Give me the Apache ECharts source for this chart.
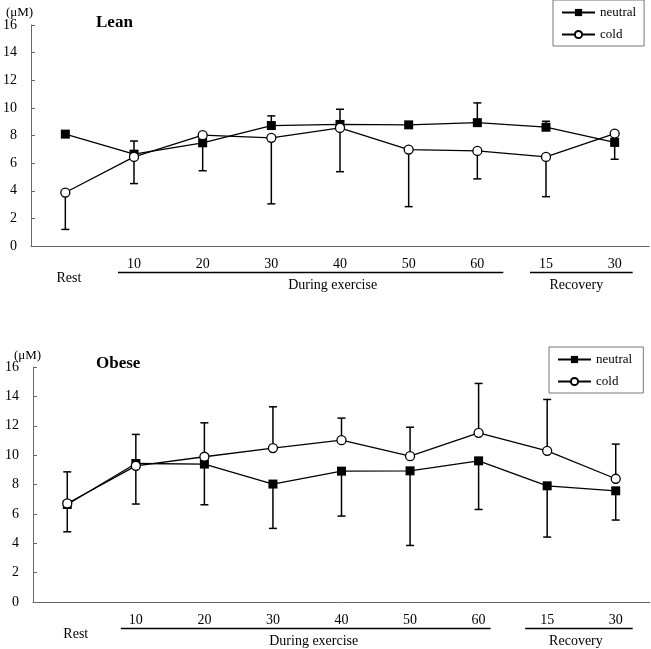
<!DOCTYPE html>
<html>
<head>
<meta charset="utf-8">
<script src="https://cdn.jsdelivr.net/npm/echarts@6/dist/echarts.min.js"></script>
<style>html,body{margin:0;padding:0;background:#fff}#c{width:651px;height:649px}</style>
</head>
<body>
<div id="c"></div>
<script>
// ---- data ----
var categories = ['Rest', '10', '20', '30', '40', '50', '60', '15', '30'];
var yTicks = [0, 2, 4, 6, 8, 10, 12, 14, 16];

var leanNeutral    = [8.1, 6.65, 7.47, 8.72, 8.8, 8.77, 8.93, 8.6, 7.5];
var leanNeutralErr = [null, 7.6, 5.45, 9.42, 9.9, null, 10.36, 9.03, 6.28];
var leanCold       = [3.87, 6.45, 8.02, 7.83, 8.55, 6.98, 6.88, 6.45, 8.14];
var leanColdErr    = [1.2, 4.52, null, 3.05, 5.38, 2.85, 4.86, 3.57, null];

var obeseNeutral    = [6.64, 9.43, 9.39, 8.03, 8.91, 8.93, 9.61, 7.91, 7.57];
var obeseNeutralErr = [4.78, 6.67, 6.62, 5.01, 5.85, 3.85, 6.3, 4.42, 5.58];
var obeseCold       = [6.71, 9.27, 9.89, 10.48, 11.02, 9.93, 11.52, 10.29, 8.39];
var obeseColdErr    = [8.86, 11.41, 12.2, 13.29, 12.52, 11.9, 14.88, 13.79, 10.75];

var groupLabels = ['During exercise', 'Recovery'];
var panelTitles = ['Lean', 'Obese'];
var unitLabel = '(μM)';

// ---- chart ----
var FONT = '"Liberation Serif", "Times New Roman", serif';
var chart = echarts.init(document.getElementById('c'), null, {renderer: 'canvas'});

function errData(vals, ends) {
  var out = [];
  for (var i = 0; i < vals.length; i++) {
    if (ends[i] !== null) out.push([i, vals[i], ends[i]]);
  }
  return out;
}
function errRender(params, api) {
  var i = api.value(0);
  var p1 = api.coord([i, api.value(1)]);
  var p2 = api.coord([i, api.value(2)]);
  var cap = 4;
  return {
    type: 'group',
    children: [
      {type: 'line', shape: {x1: p1[0], y1: p1[1], x2: p2[0], y2: p2[1]}, style: {stroke: '#000', lineWidth: 1.5}},
      {type: 'line', shape: {x1: p2[0] - cap, y1: p2[1], x2: p2[0] + cap, y2: p2[1]}, style: {stroke: '#000', lineWidth: 1.5}}
    ]
  };
}

function xAxisFor(gi, restPadTop, restPadLeft) {
  return {
    type: 'category', gridIndex: gi, data: categories, boundaryGap: true,
    axisLine: {lineStyle: {color: '#666', width: 1}},
    axisTick: {inside: true, length: 4, lineStyle: {color: '#666'}},
    axisLabel: {
      color: '#000', fontFamily: FONT, fontSize: 14, margin: 11,
      formatter: function (v) { return v === 'Rest' ? '{r|Rest}' : v; },
      rich: {r: {fontFamily: FONT, fontSize: 14, color: '#000', padding: [restPadTop, 0, 0, restPadLeft]}}
    }
  };
}
function yAxisFor(gi) {
  return {
    type: 'value', gridIndex: gi, min: yTicks[0], max: yTicks[yTicks.length - 1], interval: 2,
    splitLine: {show: false},
    axisLine: {show: true, lineStyle: {color: '#666', width: 1}},
    axisTick: {show: true, inside: true, length: 4, lineStyle: {color: '#666'}},
    axisLabel: {color: '#000', fontFamily: FONT, fontSize: 14, margin: 14}
  };
}
function lineSeries(name, gi, data, filled) {
  return {
    name: name, type: 'line', xAxisIndex: gi, yAxisIndex: gi, data: data,
    symbol: filled ? 'rect' : 'circle', symbolSize: 9,
    lineStyle: {color: '#000', width: 1.3},
    itemStyle: {color: filled ? '#000' : '#fff', borderColor: '#000', borderWidth: filled ? 0 : 1.3},
    z: 3
  };
}
function errSeries(gi, vals, ends) {
  return {type: 'custom', xAxisIndex: gi, yAxisIndex: gi, renderItem: errRender,
    data: errData(vals, ends), z: 2, silent: true};
}

var option = {
  animation: false,
  title: [
    {text: panelTitles[0], left: 91, top: 9, textStyle: {fontFamily: FONT, fontSize: 17, fontWeight: 'bold', color: '#000'}},
    {text: panelTitles[1], left: 91, top: 350, textStyle: {fontFamily: FONT, fontSize: 17, fontWeight: 'bold', color: '#000'}},
    {text: unitLabel, left: 1, top: 1, textStyle: {fontFamily: FONT, fontSize: 13, fontWeight: 'normal', color: '#000'}},
    {text: unitLabel, left: 9, top: 344, textStyle: {fontFamily: FONT, fontSize: 13, fontWeight: 'normal', color: '#000'}}
  ],
  legend: [
    {data: ['neutral', 'cold'], orient: 'vertical', left: 553, top: 0, itemWidth: 33, itemHeight: 9, itemGap: 9,
     padding: [6, 8, 5, 8], borderColor: '#777', borderWidth: 1,
     textStyle: {fontFamily: FONT, fontSize: 13, color: '#000'}},
    {data: ['neutral ', 'cold '], orient: 'vertical', left: 549, top: 347, itemWidth: 33, itemHeight: 9, itemGap: 9,
     padding: [6, 8, 5, 8], borderColor: '#777', borderWidth: 1,
     textStyle: {fontFamily: FONT, fontSize: 13, color: '#000'}}
  ],
  grid: [
    {left: 29, right: 2, top: 25, bottom: 403, containLabel: false},
    {left: 33, right: 1, top: 367, bottom: 47, containLabel: false}
  ],
  xAxis: [xAxisFor(0, 14, 7), xAxisFor(1, 14, 17)],
  yAxis: [yAxisFor(0), yAxisFor(1)],
  series: [
    errSeries(0, leanNeutral, leanNeutralErr),
    errSeries(0, leanCold, leanColdErr),
    lineSeries('neutral', 0, leanNeutral, true),
    lineSeries('cold', 0, leanCold, false),
    errSeries(1, obeseNeutral, obeseNeutralErr),
    errSeries(1, obeseCold, obeseColdErr),
    lineSeries('neutral ', 1, obeseNeutral, true),
    lineSeries('cold ', 1, obeseCold, false)
  ]
};
chart.setOption(option);

// group brackets beneath the category axis
function cx(gi, idx) { return chart.convertToPixel({xAxisIndex: gi}, idx); }
function cy(gi, v) { return chart.convertToPixel({yAxisIndex: gi}, v); }
var bracketCfg = [
  [{a: 1, b: 6, offA: -16, offB: 26, textOff: 22}, {a: 7, b: 8, offA: -16, offB: 18, textOff: -5}],
  [{a: 1, b: 6, offA: -15, offB: 12, textOff: 8}, {a: 7, b: 8, offA: -22, offB: 17, textOff: -3}]
];
var graphics = [];
[0, 1].forEach(function (gi) {
  var base = cy(gi, 0);
  var lineY = base + 26.5;
  var textY = base + 32;
  bracketCfg[gi].forEach(function (g, k) {
    var x1 = cx(gi, g.a) + g.offA, x2 = cx(gi, g.b) + g.offB;
    graphics.push({type: 'line', shape: {x1: x1, y1: lineY, x2: x2, y2: lineY}, style: {stroke: '#000', lineWidth: 1.3}});
    graphics.push({type: 'text', x: (x1 + x2) / 2 + g.textOff, y: textY,
      style: {text: groupLabels[k], fill: '#000', font: '14px ' + FONT, textAlign: 'center', textVerticalAlign: 'top'}});
  });
});
chart.setOption({graphic: graphics});
</script>
</body>
</html>
